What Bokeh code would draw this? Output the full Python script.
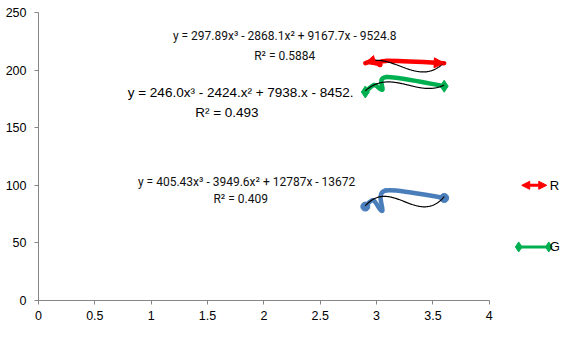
import numpy as np
from bokeh.plotting import figure
from bokeh.models import Range1d, FixedTicker, Arrow, NormalHead
from bokeh.core.properties import value
from bokeh.embed import file_html
from bokeh.resources import INLINE

# ---- data ----
r_x = [2.9, 2.97, 3.03, 3.08, 3.6]
r_y = [206, 208, 204.5, 208, 206]
g_x = [2.9, 2.98, 3.05, 3.09, 3.6]
g_y = [181, 187, 183, 194, 186]
b_x = [2.9, 2.97, 3.05, 3.08, 3.6]
b_y = [81.5, 87, 78, 95.5, 89]

# cubic trend-line coefficients as printed on the chart
r_coef = [297.89, -2868.1, 9167.7, -9524.8]
g_coef = [246.0, -2424.0, 7938.0, -8452.0]
b_coef = [405.43, -3949.6, 12787.0, -13672.0]

r_eq = ["y = 297.89x³ - 2868.1x² + 9167.7x - 9524.8", "R² = 0.5884"]
g_eq = ["y = 246.0x³ - 2424.x² + 7938.x - 8452.", "R² = 0.493"]
b_eq = ["y = 405.43x³ - 3949.6x² + 12787x - 13672", "R² = 0.409"]

legend_names = ["R", "G"]

x_ticks = [0, 0.5, 1, 1.5, 2, 2.5, 3, 3.5, 4]
x_tick_labels = ["0", "0.5", "1", "1.5", "2", "2.5", "3", "3.5", "4"]
y_ticks = [0, 50, 100, 150, 200, 250]
y_tick_labels = ["0", "50", "100", "150", "200", "250"]

RED = "#FF0000"
GREEN = "#00B050"
BLUE = "#4A7EBB"

p = figure(width=560, height=328, output_backend="svg", toolbar_location=None,
           x_range=Range1d(0, 4.632), y_range=Range1d(0, 250),
           min_border_left=38, min_border_right=0, min_border_top=12,
           min_border_bottom=28)
p.outline_line_color = None
p.xgrid.visible = False
p.ygrid.visible = False
p.background_fill_color = "white"

for ax in (p.xaxis[0], p.yaxis[0]):
    ax.axis_line_color = "#868686"
    ax.major_tick_line_color = "#868686"
    ax.major_tick_out = 4
    ax.major_tick_in = 0
    ax.minor_tick_line_color = None
    ax.major_label_text_font = "Liberation Sans"
    ax.major_label_text_font_size = "12.5px"
    ax.major_label_text_color = "#000000"

p.xaxis.ticker = FixedTicker(ticks=x_ticks)
p.xaxis.major_label_overrides = {float(t): l for t, l in zip(x_ticks, x_tick_labels)}
p.xaxis.bounds = (0, 4)
p.xaxis.major_label_standoff = 6
p.yaxis.ticker = FixedTicker(ticks=y_ticks)
p.yaxis.major_label_overrides = {float(t): l for t, l in zip(y_ticks, y_tick_labels)}
p.yaxis.major_label_standoff = 8


def smooth_segments(xs, ys):
    P = np.column_stack([xs, ys]).astype(float)
    n = len(P)
    pad = np.vstack([P[0], P, P[-1]])
    segs = dict(x0=[], y0=[], x1=[], y1=[], cx0=[], cy0=[], cx1=[], cy1=[])
    for i in range(n - 1):
        p0, p1, p2, p3 = pad[i], pad[i + 1], pad[i + 2], pad[i + 3]
        c1 = p1 + (p2 - p0) / 6.0
        c2 = p2 - (p3 - p1) / 6.0
        segs["x0"].append(p1[0]); segs["y0"].append(p1[1])
        segs["x1"].append(p2[0]); segs["y1"].append(p2[1])
        segs["cx0"].append(c1[0]); segs["cy0"].append(c1[1])
        segs["cx1"].append(c2[0]); segs["cy1"].append(c2[1])
    return segs


series = [(r_x, r_y, RED), (g_x, g_y, GREEN), (b_x, b_y, BLUE)]
seg_store = {}
for xs, ys, col in series:
    s = smooth_segments(xs, ys)
    seg_store[col] = s
    p.bezier(line_color=col, line_width=4.5, line_cap="round", line_join="round", **s)

# end decorations
p.scatter([b_x[0], b_x[-1]], [b_y[0], b_y[-1]], marker="circle", size=9,
          fill_color=BLUE, line_color=BLUE)
p.scatter([g_x[0], g_x[-1]], [g_y[0], g_y[-1]], marker="diamond", size=12,
          fill_color=GREEN, line_color=GREEN)
rs = seg_store[RED]
p.add_layout(Arrow(x_start=rs["cx0"][0], y_start=rs["cy0"][0], x_end=r_x[0], y_end=r_y[0],
                   line_alpha=0, end=NormalHead(size=10, fill_color=RED, line_color=RED)))
p.add_layout(Arrow(x_start=rs["cx1"][-1], y_start=rs["cy1"][-1], x_end=r_x[-1], y_end=r_y[-1],
                   line_alpha=0, end=NormalHead(size=10, fill_color=RED, line_color=RED)))

# trend lines
for xs, coef in ((r_x, r_coef), (g_x, g_coef), (b_x, b_coef)):
    tx = np.linspace(min(xs), max(xs), 120)
    p.line(tx, np.polyval(coef, tx), line_color="black", line_width=1.2)

# equation labels
p.text(x=[2.185, 2.185], y=[229.2, 211.9], text=r_eq, text_font=value("Roboto"),
       text_font_size="12px", text_align="center", text_baseline="middle", text_color="#111111")
p.text(x=[1.794, 1.672], y=[180.7, 163.3], text=g_eq, text_font=value("Liberation Sans"),
       text_font_size="13.5px", text_align="center", text_baseline="middle", text_color="#000000")
p.text(x=[1.847, 1.794], y=[102.7, 88.0], text=b_eq, text_font=value("Roboto"),
       text_font_size="12px", text_align="center", text_baseline="middle", text_color="#111111")

# legend (drawn by hand to reproduce the arrow / diamond ends)
p.add_layout(Arrow(x_start=4.288, y_start=100, x_end=4.51, y_end=100, line_color=RED, line_width=3,
                   start=NormalHead(size=8, fill_color=RED, line_color=RED),
                   end=NormalHead(size=8, fill_color=RED, line_color=RED)))
p.line([4.261, 4.528], [46.5, 46.5], line_color=GREEN, line_width=3)
p.scatter([4.261, 4.528], [46.5, 46.5], marker="diamond", size=10, fill_color=GREEN, line_color=GREEN)
p.text(x=[4.537, 4.537], y=[100, 46.5], text=legend_names, text_font=value("Liberation Sans"),
       text_font_size="13px", text_align="left", text_baseline="middle", text_color="#000000")

open("out.html", "w").write(file_html(p, INLINE))
